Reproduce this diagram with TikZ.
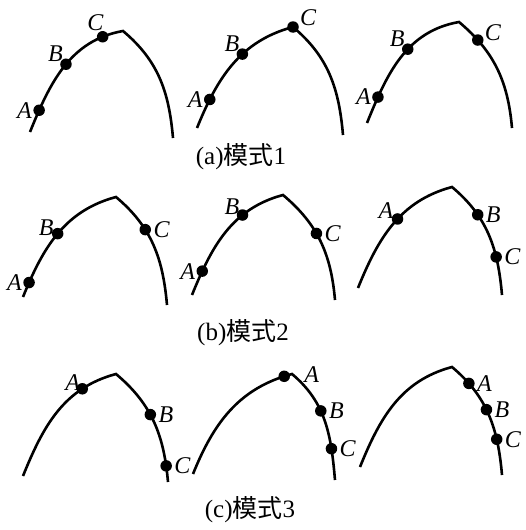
\documentclass[tikz,border=0pt]{standalone}
\usepackage{fontspec}
\setmainfont{Liberation Serif}
\newfontfamily\cjk{Noto Sans CJK SC}
\usetikzlibrary{positioning}

\begin{document}
\begin{tikzpicture}[x=1pt,y=1pt,
  arch/.style={line width=2.6pt},
  pt/.style={circle,fill=black,inner sep=0pt,minimum size=11.5pt},
  lbl/.style={inner sep=1pt,font=\fontsize{24}{26}\selectfont\itshape},
  captxt/.style={inner sep=0pt,font=\fontsize{25}{28}\selectfont}]
\useasboundingbox (0,0) rectangle (526,-530);
% (a) mode 1
\draw[arch](30,-132) to[out=68,in=190] node[pt,pos=0.15](a1A){} node[pt,pos=0.52](a1B){} node[pt,pos=0.86](a1C){} (123,-31)
  to[out=-40,in=95] (173,-138);
\draw[arch](197,-128) to[out=68,in=195] node[pt,pos=0.2](a2A){} node[pt,pos=0.6](a2B){} (293,-27) node[pt](a2C){}
  to[out=-40,in=95] (343,-135);
\draw[arch](367,-123) to[out=68,in=190] node[pt,pos=0.18](a3A){} node[pt,pos=0.58](a3B){} (459,-22)
  to[out=-40,in=95] node[pt,pos=0.2](a3C){} (512,-128);
\node[lbl,left=-1pt of a1A]{A};
\node[lbl,above left=-4pt and -3pt of a1B]{B};
\node[lbl,above left=0pt and -7pt of a1C]{C};
\node[lbl,left=-1pt of a2A]{A};
\node[lbl,above left=-4pt and -3pt of a2B]{B};
\node[lbl,above right=-5pt and 1pt of a2C]{C};
\node[lbl,left=-1pt of a3A]{A};
\node[lbl,above left=-4pt and -3pt of a3B]{B};
\node[lbl,above right=-7pt and 1pt of a3C]{C};
\node[captxt](capa) at (241,-157){(a){\cjk 模式}1};
% (b) mode 2
\draw[arch](23,-297) to[out=68,in=195] node[pt,pos=0.1](b1A){} node[pt,pos=0.5](b1B){} (116,-197)
  to[out=-40,in=95] node[pt,pos=0.35](b1C){} (167,-305);
\draw[arch](192,-295) to[out=68,in=195] node[pt,pos=0.17](b2A){} node[pt,pos=0.68](b2B){} (283,-195)
  to[out=-40,in=95] node[pt,pos=0.42](b2C){} (335,-300);
\draw[arch](358,-288) to[out=68,in=195] node[pt,pos=0.55](b3A){} (452,-187)
  to[out=-40,in=95] node[pt,pos=0.3](b3B){} node[pt,pos=0.7](b3C){} (502,-295);
\node[lbl,left=-1pt of b1A]{A};
\node[lbl,above left=-8pt and -2pt of b1B]{B};
\node[lbl,right=0pt of b1C]{C};
\node[lbl,left=-1pt of b2A]{A};
\node[lbl,above left=-6pt and -3pt of b2B]{B};
\node[lbl,right=0pt of b2C]{C};
\node[lbl,above left=-6pt and -2pt of b3A]{A};
\node[lbl,right=0pt of b3B]{B};
\node[lbl,right=0pt of b3C]{C};
\node[captxt](capb) at (243,-333){(b){\cjk 模式}2};
% (c) mode 3
\draw[arch](23,-476) to[out=68,in=195] node[pt,pos=0.75](c1A){} (116,-374)
  to[out=-40,in=95] node[pt,pos=0.43](c1B){} node[pt,pos=0.88](c1C){} (168,-482);
\draw[arch](193,-474) to[out=68,in=195] node[pt,pos=0.95](c2A){} (292,-374)
  to[out=-40,in=95] node[pt,pos=0.4](c2B){} node[pt,pos=0.75](c2C){} (335,-480);
\draw[arch](360,-467) to[out=68,in=195] (452,-367)
  to[out=-40,in=95] node[pt,pos=0.18](c3A){} node[pt,pos=0.45](c3B){} node[pt,pos=0.72](c3C){} (502,-475);
\node[lbl,above left=-8pt and -4pt of c1A]{A};
\node[lbl,right=0pt of c1B]{B};
\node[lbl,right=0pt of c1C]{C};
\node[lbl,right=12pt of c2A,yshift=2pt]{A};
\node[lbl,right=0pt of c2B]{B};
\node[lbl,right=0pt of c2C]{C};
\node[lbl,right=0pt of c3A]{A};
\node[lbl,right=0pt of c3B]{B};
\node[lbl,right=0pt of c3C]{C};
\node[captxt](capc) at (250,-510){(c){\cjk 模式}3};
\end{tikzpicture}
\end{document}
